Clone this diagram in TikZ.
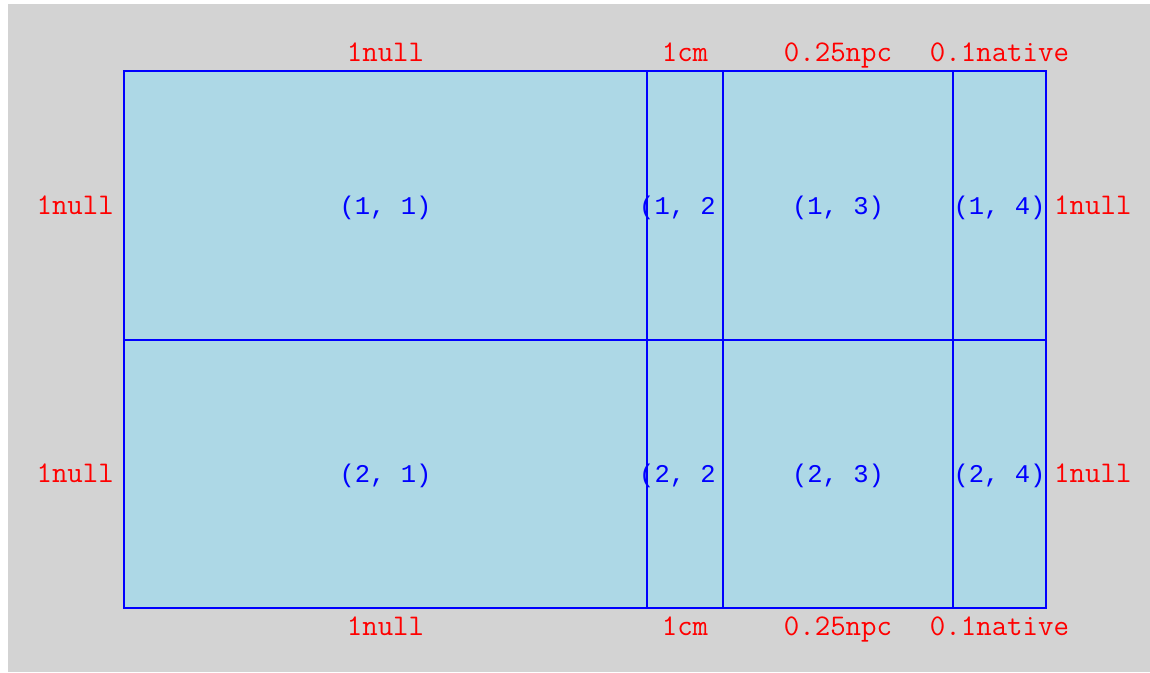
\documentclass[tikz,border=0pt]{standalone}
\usepackage{fontspec}
\newfontfamily\bluemono{Liberation Mono}
\definecolor{bggray}{HTML}{D3D3D3}
\definecolor{cellblue}{HTML}{ADD8E6}
\begin{document}
\begin{tikzpicture}[x=1pt,y=-1pt,
  redlab/.style={font=\ttfamily\fontsize{30}{33}\selectfont, inner sep=0pt, text=red},
  bluelab/.style={font=\bluemono\fontsize{25.5}{30}\selectfont, inner sep=0pt, text=blue},
  cell/.style={draw=blue, fill=cellblue, line width=1.6pt}]
\useasboundingbox (0,0) rectangle (1150,672);
\fill[bggray] (8,4) rectangle (1150,672);
% cells
\draw[cell] (124,71) rectangle (647,340);
\draw[cell] (647,71) rectangle (723,340);
\draw[cell] (723,71) rectangle (953,340);
\draw[cell] (953,71) rectangle (1046,340);
\draw[cell] (124,340) rectangle (647,608);
\draw[cell] (647,340) rectangle (723,608);
\draw[cell] (723,340) rectangle (953,608);
\draw[cell] (953,340) rectangle (1046,608);
% cell labels
\node[bluelab, anchor=base] (t11) at (385.5,214.5) {(1, 1)};
\node[bluelab, anchor=base west] (t12) at (639,214.5) {(1, 2};
\node[bluelab, anchor=base] (t13) at (838,214.5) {(1, 3)};
\node[bluelab, anchor=base] (t14) at (999.5,214.5) {(1, 4)};
\node[bluelab, anchor=base] (t21) at (385.5,482.5) {(2, 1)};
\node[bluelab, anchor=base west] (t22) at (639,482.5) {(2, 2};
\node[bluelab, anchor=base] (t23) at (838,482.5) {(2, 3)};
\node[bluelab, anchor=base] (t24) at (999.5,482.5) {(2, 4)};
% column labels top
\node[redlab, anchor=base] (ct1) at (385.5,61) {1null};
\node[redlab, anchor=base] (ct2) at (685,61) {1cm};
\node[redlab, anchor=base] (ct3) at (838,61) {0.25npc};
\node[redlab, anchor=base] (ct4) at (999.5,61) {0.1native};
% column labels bottom
\node[redlab, anchor=base] (cb1) at (385.5,635) {1null};
\node[redlab, anchor=base] (cb2) at (685,635) {1cm};
\node[redlab, anchor=base] (cb3) at (838,635) {0.25npc};
\node[redlab, anchor=base] (cb4) at (999.5,635) {0.1native};
% row labels
\node[redlab, anchor=base east] (rl1) at (114,214.5) {1null};
\node[redlab, anchor=base east] (rl2) at (114,482.5) {1null};
\node[redlab, anchor=base west] (rr1) at (1054,214.5) {1null};
\node[redlab, anchor=base west] (rr2) at (1054,482.5) {1null};
\end{tikzpicture}
\end{document}
